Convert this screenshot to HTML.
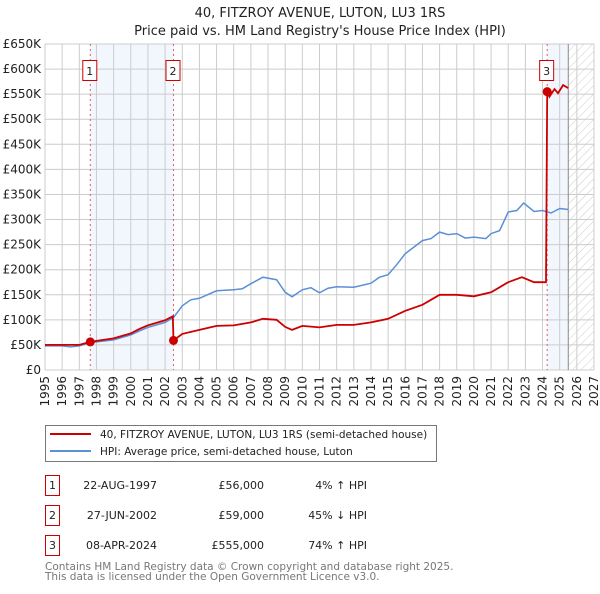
<!DOCTYPE html>
<html><head><meta charset="utf-8"><style>
body{margin:0;background:#fff;font-family:"DejaVu Sans","Liberation Sans",sans-serif;}
svg text{font-family:"DejaVu Sans","Liberation Sans",sans-serif;}
</style></head><body>
<svg id="c" width="600" height="590" xmlns="http://www.w3.org/2000/svg">
<defs><pattern id="hatch" width="6" height="6" patternUnits="userSpaceOnUse" patternTransform="rotate(45)"><line x1="0" y1="0" x2="0" y2="6" stroke="#ccc" stroke-width="1"/></pattern></defs>
<text x="320" y="17" text-anchor="middle" font-size="13" fill="#222">40, FITZROY AVENUE, LUTON, LU3 1RS</text>
<text x="320" y="35" text-anchor="middle" font-size="13" fill="#222">Price paid vs. HM Land Registry's House Price Index (HPI)</text>
<g id="plot"></g>
<g>
<rect x="45.5" y="425.5" width="391" height="36" fill="#fff" stroke="#777"/>
<line x1="50" y1="434" x2="91" y2="434" stroke="#cc0000" stroke-width="2"/>
<text x="100" y="438" font-size="10.5" fill="#222">40, FITZROY AVENUE, LUTON, LU3 1RS (semi-detached house)</text>
<line x1="50" y1="451" x2="91" y2="451" stroke="#5b8fd6" stroke-width="2"/>
<text x="100" y="455" font-size="10.5" fill="#222">HPI: Average price, semi-detached house, Luton</text>
</g>
<g font-size="11" fill="#222">
<rect x="45.5" y="475.5" width="14" height="20" fill="#fff" stroke="#cc0000"/><text x="52.5" y="489" text-anchor="middle">1</text>
<text x="157" y="489" text-anchor="end">22-AUG-1997</text><text x="264" y="489" text-anchor="end">£56,000</text><text x="367" y="489" text-anchor="end">4% ↑ HPI</text>
<rect x="45.5" y="505.5" width="14" height="20" fill="#fff" stroke="#cc0000"/><text x="52.5" y="519" text-anchor="middle">2</text>
<text x="157" y="519" text-anchor="end">27-JUN-2002</text><text x="264" y="519" text-anchor="end">£59,000</text><text x="367" y="519" text-anchor="end">45% ↓ HPI</text>
<rect x="45.5" y="535.5" width="14" height="20" fill="#fff" stroke="#cc0000"/><text x="52.5" y="549" text-anchor="middle">3</text>
<text x="157" y="549" text-anchor="end">08-APR-2024</text><text x="264" y="549" text-anchor="end">£555,000</text><text x="367" y="549" text-anchor="end">74% ↑ HPI</text>
</g>
<text x="45" y="570" font-size="10.5" fill="#777">Contains HM Land Registry data © Crown copyright and database right 2025.</text>
<text x="45" y="580" font-size="10.5" fill="#777">This data is licensed under the Open Government Licence v3.0.</text>
</svg>
<script>
const hpiT=[1995,1996,1996.5,1997,1997.6,1998,1999,2000,2000.5,2001,2002,2002.5,2003,2003.5,2004,2005,2006,2006.5,2007,2007.7,2008.5,2009,2009.4,2010,2010.5,2011,2011.5,2012,2013,2014,2014.5,2015,2015.5,2016,2017,2017.5,2018,2018.5,2019,2019.5,2020,2020.7,2021,2021.5,2022,2022.5,2022.9,2023.5,2024,2024.5,2025,2025.5];
const hpiV=[48,48,46,48,54,56,60,70,78,85,95,105,128,140,143,158,160,162,172,185,180,155,146,160,164,154,163,166,165,173,185,190,210,232,258,262,275,270,272,263,265,262,272,278,315,318,333,316,318,313,322,320];
const redT=[1995,1997,1997.64,1998,1999,2000,2000.5,2001,2002,2002.45,2002.49,2003,2004,2005,2006,2007,2007.7,2008.5,2009,2009.4,2010,2011,2012,2013,2014,2015,2016,2017,2018,2019,2020,2021,2022,2022.8,2023.5,2024.2,2024.27,2024.4,2024.7,2024.9,2025.2,2025.5];
const redV=[50,50,56,58,63,73,82,89,99,107,59,72,80,88,89,95,102,100,86,80,88,85,90,90,95,102,118,130,150,150,147,155,175,185,175,175,555,545,560,552,568,562];
const saleT=[1997.64,2002.49,2024.27];
const saleV=[56,59,555];
const saleLabels=["1","2","3"];
const yTicks=[0,50,100,150,200,250,300,350,400,450,500,550,600,650];
const yLabels=["£0","£50K","£100K","£150K","£200K","£250K","£300K","£350K","£400K","£450K","£500K","£550K","£600K","£650K"];
const xYears=[];for(let y=1995;y<=2027;y++)xYears.push(y);

const X0=45,X1=594,Y0=370,Y1=44;
const sx=t=>X0+(t-1995)*(X1-X0)/32;
const sy=v=>Y0-v*(Y0-Y1)/650;
const NS="http://www.w3.org/2000/svg";
const g=document.getElementById('plot');
function mk(tag,attrs,parent){const e=document.createElementNS(NS,tag);for(const k in attrs)e.setAttribute(k,attrs[k]);(parent||g).appendChild(e);return e;}

let e;
e=mk('rect',{x:sx(saleT[0]),y:Y1,width:sx(saleT[1])-sx(saleT[0]),height:Y0-Y1,fill:'#f2f6fd'});


e=mk('rect',{x:sx(saleT[2]),y:Y1,width:sx(2025.5)-sx(saleT[2]),height:Y0-Y1,fill:'#f2f6fd'});


e=mk('rect',{x:sx(2025.5),y:Y1,width:X1-sx(2025.5),height:Y0-Y1,fill:'url(#hatch)'});



yTicks.forEach((v,i)=>{
 e=mk('line',{x1:X0,x2:X1,y1:sy(v),y2:sy(v),stroke:'#ccc','stroke-width':1});
 
 
 e=mk('text',{x:X0-4,y:sy(v)+4,'text-anchor':'end','font-size':12,fill:'#222'});
 e.textContent=yLabels[i];
 
 
});
xYears.forEach(yr=>{
 const x=sx(yr);
 e=mk('line',{x1:x,x2:x,y1:Y1,y2:Y0,stroke:'#ccc','stroke-width':1});
 
 
 e=mk('text',{x:0,y:0,'text-anchor':'end','font-size':12,fill:'#222',transform:`translate(${x+4},376) rotate(-90)`});
 e.textContent=yr;
 
 
});
e=mk('line',{x1:sx(2025.5),x2:sx(2025.5),y1:Y1,y2:Y0,stroke:'#888','stroke-width':1});



saleT.forEach((t,i)=>{
 e=mk('line',{x1:sx(t),x2:sx(t),y1:Y1,y2:Y0,stroke:'#e06060','stroke-width':1,'stroke-dasharray':'2,3'});
 
 
});

const path=(T,V)=>T.map((t,i)=>(i?'L':'M')+sx(t).toFixed(1)+','+sy(V[i]).toFixed(1)).join(' ');
e=mk('path',{d:path(hpiT,hpiV),fill:'none',stroke:'#5b8fd6','stroke-width':1.5});


e=mk('path',{d:path(redT,redV),fill:'none',stroke:'#cc0000','stroke-width':1.8});



saleT.forEach((t,i)=>{
 e=mk('circle',{cx:sx(t),cy:sy(saleV[i]),r:4.5,fill:'#cc0000'});
 
 
 e=mk('rect',{x:sx(t)-7.5,y:60.5,width:14,height:20,fill:'#fff',stroke:'#cc0000'});
 
 
 e=mk('text',{x:sx(t)-0.5,y:75,'text-anchor':'middle','font-size':11,fill:'#222'});
 e.textContent=saleLabels[i];
 
 
});
</script>
</body></html>
